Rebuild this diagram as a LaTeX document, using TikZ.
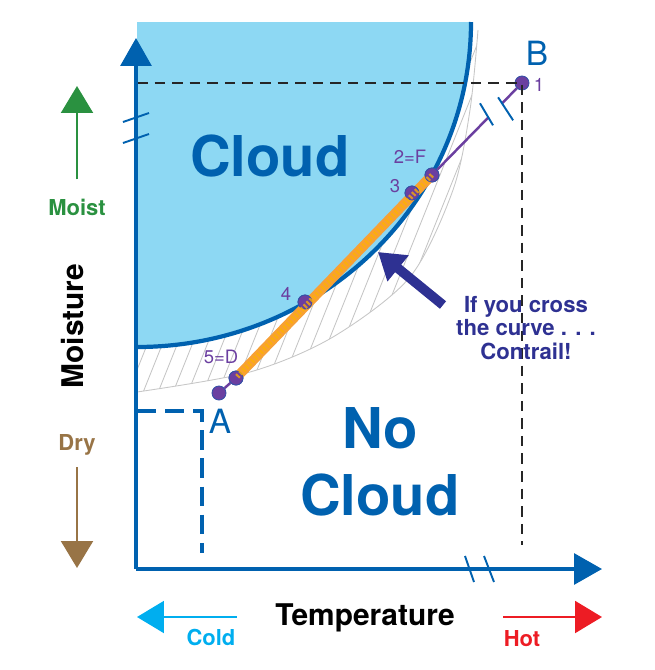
\documentclass[tikz,border=0pt]{standalone}
\usepackage{fontspec}
\setmainfont{TeX Gyre Heros}
\usetikzlibrary{arrows.meta,positioning}
\definecolor{cloudfill}{HTML}{8DD8F3}
\definecolor{axisblue}{HTML}{0061AF}
\definecolor{ptpurple}{HTML}{6B3FA0}
\definecolor{navy}{HTML}{2E3192}
\definecolor{trailorange}{HTML}{F7A035}
\definecolor{moistgreen}{HTML}{2A9140}
\definecolor{drybrown}{HTML}{987446}
\definecolor{coldcyan}{HTML}{00AEEF}
\definecolor{hotred}{HTML}{ED1C24}

\begin{document}
\begin{tikzpicture}[x=0.02cm,y=-0.02cm,
  axis/.style={draw=axisblue,line width=1.8pt,-{Triangle[width=0.62cm,length=0.56cm]}},
  brk/.style={draw=axisblue,line width=1.1pt},
  edge/.style={draw=axisblue,line width=2.4pt},
  guide/.style={draw=black!85,line width=1.6pt,dash pattern=on 6pt off 4pt},
  bguide/.style={draw=axisblue,line width=2pt,dash pattern=on 11pt off 5pt},
  pt/.style={circle,fill=ptpurple,draw=axisblue!50!ptpurple,line width=0.5pt,minimum size=0.28cm,inner sep=0pt},
  num/.style={anchor=base,text=ptpurple,font=\fontsize{10.5}{12}\selectfont},
  big/.style={anchor=base,text=axisblue,font=\fontsize{32}{38}\selectfont\bfseries},
  letter/.style={anchor=base,text=axisblue,font=\fontsize{19}{22}\selectfont},
  title/.style={anchor=base,font=\fontsize{17}{20}\selectfont\bfseries},
  side/.style={anchor=base,font=\fontsize{12.5}{15}\selectfont\bfseries},
  sidearr/.style={line width=1.2pt,-{Triangle[width=0.64cm,length=0.54cm]}},
  hatch/.style={draw=black!22,line width=0.5pt},
  traj/.style={draw=ptpurple,line width=1.4pt},
  band/.style={draw=trailorange,line width=5.5pt},
  bigarr/.style={draw=navy,line width=5.5pt,-{Triangle[width=0.64cm,length=0.52cm]}}
]
  \useasboundingbox (0,0) rectangle (654,670);

  \begin{scope}
    \clip plot[smooth] coordinates {(137,392) (250,372) (333,337) (410,277) (453,190) (470,110) (478,30)}
      -- (478,22) -- (137,22) -- cycle;
    \foreach \x in {-40,-25,...,490}
      \draw[hatch] (\x,400) -- ++(160,-400);
  \end{scope}
  \draw[hatch] plot[smooth] coordinates {(137,392) (250,372) (333,337) (410,277) (453,190) (470,110) (478,30)};

  \fill[cloudfill] (137,22) -- (471,22) arc[start angle=0,end angle=90,x radius=334,y radius=325] -- cycle;
  \draw[edge] (471,22) arc[start angle=0,end angle=90,x radius=334,y radius=325];

  \node[big] (cloud) at (270,176) {Cloud};
  \node[big] (no) at (380,448) {No};
  \node[big] (nocloud) at (380,515) {Cloud};

  \coordinate (O) at (136,569);
  \coordinate (ytip) at (136,38);
  \coordinate (xtip) at (602,569);
  \coordinate (g1) at (137,83);
  \coordinate (g2) at (522,545);
  \coordinate (h1) at (137,411);
  \coordinate (h2) at (202,411);
  \coordinate (h3) at (202,553);

  \node[pt] (B) at (522,83) {};
  \node[pt] (F) at (432,175) {};
  \node[pt] (p3) at (412,193) {};
  \node[pt] (p4) at (305,302) {};
  \node[pt] (D) at (236,378) {};
  \node[pt] (A) at (219,393) {};
  \coordinate (b1) at (488.5,117.3);
  \coordinate (b2) at (502.1,103.3);

  \draw[guide] (g1) -- (B.center) -- (g2);
  \draw[bguide] (h1) -- (h2) -- (h3);

  \draw[axis] (O) -- (ytip);
  \draw[axis] (O) -- (xtip);
  \draw[brk] (123,122) -- (149,113);
  \draw[brk] (123,143) -- (149,134);
  \draw[brk] (465,556) -- (474,582);
  \draw[brk] (484,556) -- (494,582);

  \draw[traj] (F) -- (b1);
  \draw[traj] (b2) -- (B);
  \draw[brk] (b1) ++(-8.5,-14) -- ++(13,22);
  \draw[brk] (b2) ++(-4,-6) -- ++(15,23);
  \draw[traj] (A) -- (D);
  \draw[band] (F.center) -- (D.center);
  \node[pt] at (F) {};
  \node[pt] at (p3) {};
  \node[pt] at (p4) {};
  \node[pt] at (D) {};
  \draw[draw=orange!60!yellow,line width=3pt,dash pattern=on 1.2pt off 1.2pt,opacity=.75] (F.center) -- (D.center);

  \node[letter] (labB) at (537,65) {B};
  \node[letter] (labA) at (220,433) {A};
  \node[num] (lab1) at (539,91) {1};
  \node[num] (labF) at (410,163) {2=F};
  \node[num] (lab3) at (395,192) {3};
  \node[num] (lab4) at (286,300) {4};
  \node[num] (labD) at (221,363) {5=D};

  \coordinate (crosstail) at (443,305);
  \coordinate (crosstip) at (378,252);
  \draw[bigarr] (crosstail) -- (crosstip);
  \node[text=navy,font=\fontsize{12.6}{13.6}\selectfont\bfseries,align=center] (note) at (526,328)
    {If you cross\\the curve . . .\\Contrail!};

  \node[side,text=moistgreen] (moist) at (77,215) {Moist};
  \coordinate (moisttip) at (77,86);
  \draw[sidearr,draw=moistgreen] (moist.north) ++(0,-13) -- (moisttip);
  \node[title,rotate=90,anchor=center] (moisture) at (73,326) {Moisture};
  \node[side,text=drybrown] (dry) at (77,450) {Dry};
  \coordinate (drytip) at (77,568);
  \draw[sidearr,draw=drybrown] (dry.south) ++(0,6) -- (drytip);

  \node[title] (temp) at (365,625) {Temperature};
  \node[side,text=coldcyan] (cold) at (211,645) {Cold};
  \coordinate (coldtail) at (237,617);
  \coordinate (coldtip) at (137,617);
  \draw[sidearr,draw=coldcyan] (coldtail) -- (coldtip);
  \node[side,text=hotred] (hot) at (522,646) {Hot};
  \coordinate (hottail) at (503,617);
  \coordinate (hottip) at (602,617);
  \draw[sidearr,draw=hotred] (hottail) -- (hottip);
\end{tikzpicture}
\end{document}
